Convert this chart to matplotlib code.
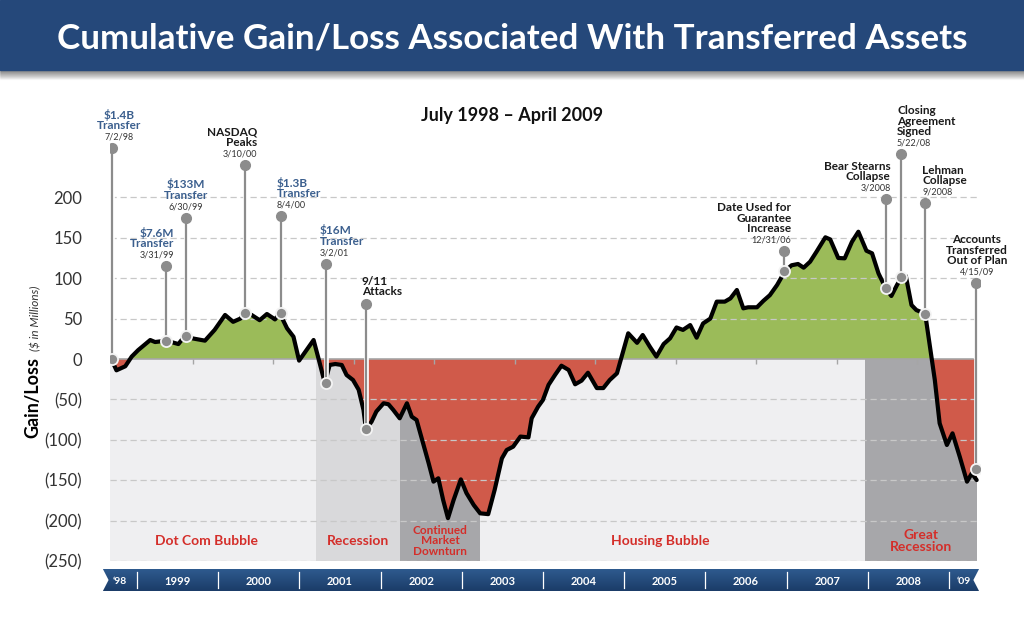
import matplotlib
matplotlib.use("Agg")
import matplotlib.pyplot as plt
import numpy as np
from matplotlib.patches import Polygon, Rectangle
import matplotlib.patheffects as pe

plt.rcParams['font.family'] = ['Lato', 'DejaVu Sans']

# cumulative gain/loss ($M), vertices (decimal years)
dates = [1998.53, 1998.58, 1998.69, 1998.77, 1998.85, 1999.00, 1999.06, 1999.20, 1999.35, 1999.43,
         1999.52, 1999.68, 1999.80, 1999.93, 2000.03, 2000.12, 2000.18, 2000.26, 2000.36, 2000.45,
         2000.55, 2000.61, 2000.70, 2000.78, 2000.85, 2001.03, 2001.09, 2001.17, 2001.23, 2001.30,
         2001.38, 2001.44, 2001.52, 2001.59, 2001.65, 2001.68, 2001.75, 2001.81, 2001.90, 2001.96,
         2002.02, 2002.10, 2002.19, 2002.25, 2002.31, 2002.39, 2002.46, 2002.52, 2002.58, 2002.64,
         2002.70, 2002.77, 2002.86, 2002.93, 2003.02, 2003.10, 2003.20, 2003.28, 2003.37, 2003.43,
         2003.51, 2003.60, 2003.70, 2003.74, 2003.82, 2003.88, 2003.95, 2004.03, 2004.11, 2004.20,
         2004.28, 2004.36, 2004.44, 2004.55, 2004.63, 2004.71, 2004.80, 2004.94, 2005.05, 2005.12,
         2005.21, 2005.29, 2005.38, 2005.46, 2005.54, 2005.62, 2005.71, 2005.79, 2005.87, 2005.96,
         2006.04, 2006.14, 2006.21, 2006.29, 2006.37, 2006.43, 2006.54, 2006.62, 2006.70, 2006.79,
         2006.89, 2006.97, 2007.05, 2007.12, 2007.20, 2007.28, 2007.39, 2007.45, 2007.55, 2007.63,
         2007.72, 2007.80, 2007.90, 2007.97, 2008.05, 2008.14, 2008.21, 2008.28, 2008.34, 2008.39,
         2008.46, 2008.52, 2008.63, 2008.69, 2008.75, 2008.81, 2008.90, 2008.97, 2009.06, 2009.15,
         2009.21, 2009.27]
gain = [-3, -14, -9, 3, 11, 23.5, 21, 22.7, 18.5, 28.5,
        25.6, 22.7, 36, 54.5, 46, 50, 57.3, 54.5, 48, 55.7,
        49, 56.5, 38, 27.6, -2, 23.5, 1, -30, -7.4, -6.2,
        -7.4, -19.8, -26, -38, -63, -86.6, -77.6, -65, -54.8, -56,
        -63, -73.4, -54.8, -71.4, -75.5, -104, -129, -151.8, -147.6, -174.5,
        -197, -174.5, -149, -166, -180.7, -191, -192, -162, -123, -112.6,
        -108.5, -96, -97, -73.4, -59, -50.7, -32, -19.8, -8.3, -13.6,
        -31.3, -26.8, -17, -36, -36, -26, -17.7, 31.8, 20, 29.7,
        15, 3, 18.5, 25.6, 39, 36, 42, 26.4, 44, 50,
        71, 71, 75, 85.4, 62.7, 64, 64, 72, 79, 91.6,
        109, 116, 117.6, 113, 120.4, 132.8, 150.6, 148, 125, 124.6,
        145, 157.5, 134, 130.8, 106, 87.5, 78, 91.6, 101.8, 102.7,
        66.8, 60.6, 56, 15, -26, -79.6, -106.4, -92, -121, -151.8,
        -141.5, -149.8]

# event callouts
ev_x = [1998.53, 1999.20, 1999.44, 2000.18, 2000.62, 2001.18, 2001.68, 2006.88, 2008.14, 2008.33, 2008.63, 2009.26]
ev_low = [0, 22.7, 28.5, 57.3, 56.5, -30, -86.6, 109, 87.5, 101.8, 55.7, -136]
ev_high = [261, 115, 175, 240, 177, 118, 68, 134, 198, 254, 193, 94]
ev_name = ["$1.4B\nTransfer", "$7.6M\nTransfer", "$133M\nTransfer", "NASDAQ\nPeaks", "$1.3B\nTransfer",
           "$16M\nTransfer", "9/11\nAttacks", "Date Used for\nGuarantee\nIncrease", "Bear Stearns\nCollapse",
           "Closing\nAgreement\nSigned", "Lehman\nCollapse", "Accounts\nTransferred\nOut of Plan"]
ev_date = ["7/2/98", "3/31/99", "6/30/99", "3/10/00", "8/4/00", "3/2/01", "", "12/31/06", "3/2008",
           "5/22/08", "9/2008", "4/15/09"]

# economic periods
period_names = ["Dot Com Bubble", "Recession", "Continued\nMarket\nDownturn", "Housing Bubble", "Great\nRecession"]
period_start = [1998.5, 2001.06, 2002.10, 2003.10, 2007.88]
period_end = [2001.06, 2002.10, 2003.10, 2007.88, 2009.27]

y_ticks = [200, 150, 100, 50, 0, -50, -100, -150, -200, -250]
y_labels = ["200", "150", "100", "50", "0", "(50)", "(100)", "(150)", "(200)", "(250)"]
years = ["\u201898", "1999", "2000", "2001", "2002", "2003", "2004", "2005", "2006", "2007", "2008", "\u201809"]
year_bounds = [1998.58, 1999, 2000, 2001, 2002, 2003, 2004, 2005, 2006, 2007, 2008, 2009, 2009.37]

# styling
W, H = 1024, 641
NAVY = '#25487a'
GREEN = '#9bbb59'
RED = '#d05a4a'
period_colors = ['#efeff1', '#d9d9db', '#a7a7aa', '#efeff1', '#a7a7aa']
period_fs = [10, 10, 8.5, 10, 10]
period_shift = [-0.08, 0.0, 0.0, -0.15, 0.0]
ev_color = ['#3b5f8e'] * 3 + ['#1a1a1a'] + ['#3b5f8e'] * 2 + ['#1a1a1a'] * 6
ev_ha = ['center', 'right', 'center', 'right', 'left', 'left', 'left', 'right', 'right', 'left', 'left', 'center']
ev_dx = [7, 8, 0, 12, -4, -6, -4, 7, 5, -4, -3, 1]

x = np.array(dates)
y = np.array(gain)

fig = plt.figure(figsize=(W / 100, H / 100), dpi=100)

# header banner with soft shadow
for i in range(10):
    fig.patches.append(Rectangle((0, 1 - (70 + i) / H), 1, 1 / H, transform=fig.transFigure,
                                 color='#000000', alpha=0.18 * (1 - i / 10), zorder=0))
fig.patches.append(Rectangle((0, 1 - 70 / H), 1, 70 / H, transform=fig.transFigure, color=NAVY, zorder=1))
fig.text(0.5, 1 - 39 / H, "Cumulative Gain/Loss Associated With Transferred Assets", color='white',
         fontsize=25.2, fontweight='bold', ha='center', va='center')
fig.text(0.5, 1 - 116 / H, "July 1998 \u2013 April 2009", fontsize=13, fontweight='bold',
         ha='center', va='center', color='#111111')

# main axes: px 110..980 horizontally, 95..561 vertically
ax = fig.add_axes([110 / W, (H - 561) / H, 870 / W, 466 / H])
x0, x1 = 1998.5, 1998.5 + 870 / 80.47
ax.set_xlim(x0, x1)
ax.set_ylim(-250, (359 - 95) * 50 / 40.4)
for s in ax.spines.values():
    s.set_visible(False)
ax.set_xticks([])
ax.set_yticks(y_ticks)
ax.set_yticklabels(y_labels, fontsize=12, color='#333333')
ax.tick_params(axis='y', length=0, pad=20)

# period shading below zero
for a, b, c in zip(period_start, period_end, period_colors):
    ax.fill_between([a, b], -250, 0, color=c, lw=0, zorder=1)

# gain/loss fills
ax.fill_between(x, y, 0, where=y >= 0, interpolate=True, color=GREEN, lw=0, zorder=2)
ax.fill_between(x, y, 0, where=y <= 0, interpolate=True, color=RED, lw=0, zorder=2)

# grid
for t in y_ticks:
    if t == 0:
        continue
    ax.plot([x0, period_end[-1]], [t, t], color='#c8c8c8', lw=0.9, ls=(0, (5, 3)), zorder=3)
ax.plot([x0, period_end[-1] - 0.05], [0, 0], color='#a6a6a6', lw=1.2, zorder=3)
ax.vlines(np.arange(1999, 2009) + 0.53, -6, 0, color='#a6a6a6', lw=1, zorder=3)

# the curve
ax.plot(x, y, color='black', lw=3, solid_joinstyle='round', solid_capstyle='round', zorder=4)

# period labels
for n, a, b, fs, sh in zip(period_names, period_start, period_end, period_fs, period_shift):
    ax.text((a + b) / 2 + sh, -225, n, color='#d42e2a', fontsize=fs, fontweight='bold',
            ha='center', va='center', linespacing=0.95, zorder=5)

# callouts
for i in range(len(ev_x)):
    ax.plot([ev_x[i], ev_x[i]], [ev_low[i], ev_high[i]], color='#8c8c8c', lw=1.6, zorder=5,
            path_effects=[pe.Stroke(linewidth=3.4, foreground='white'), pe.Normal()])
    ax.plot(ev_x[i], ev_high[i], 'o', ms=7, color='#8c8c8c', mec='#8c8c8c', zorder=6)
    ax.plot(ev_x[i], ev_low[i], 'o', ms=8, color='#8c8c8c', mec='#f4f4f4', mew=1.3, zorder=6)
    dx = ev_dx[i] * 0.72
    up = 5
    if ev_date[i]:
        ax.annotate(ev_date[i], (ev_x[i], ev_high[i]), xytext=(dx, 4.5), textcoords='offset points',
                    ha=ev_ha[i], va='bottom', fontsize=6.5, color='#333333', zorder=7)
        up = 12
    ax.annotate(ev_name[i], (ev_x[i], ev_high[i]), xytext=(dx, up), textcoords='offset points',
                ha=ev_ha[i], va='bottom', fontsize=8.5, fontweight='bold', color=ev_color[i],
                linespacing=0.95, multialignment=ev_ha[i], zorder=7)

# y label
fig.text(33 / W, 1 - 398 / H, "Gain/Loss", rotation=90, fontsize=13, fontweight='bold',
         ha='center', va='center')
fig.text(36 / W, 1 - 318 / H, "($ in Millions)", rotation=90, fontsize=8.5, style='italic',
         ha='center', va='center', color='#333333')

# timeline ribbon
tl = fig.add_axes([103 / W, (H - 591) / H, 882 / W, 22 / H])
tl.set_xlim(1999 - 34 / 81.2, 1999 + 848 / 81.2)
tl.set_ylim(0, 1)
tl.axis('off')
lo, hi = year_bounds[0], year_bounds[-1]
ribbon = Polygon([(lo, 0), (hi, 0), (hi - 0.07, 0.5), (hi, 1), (lo, 1), (lo + 0.07, 0.5)],
                 closed=True, facecolor='none', edgecolor='none')
tl.add_patch(ribbon)
grad = np.linspace(0, 1, 50).reshape(-1, 1)
img = tl.imshow(grad, extent=[lo, hi, 0, 1], aspect='auto', origin='lower',
                cmap=matplotlib.colors.LinearSegmentedColormap.from_list('r', ['#1b3c68', '#2e5a8e']))
img.set_clip_path(ribbon)
for b in year_bounds[1:-1]:
    tl.plot([b, b], [0.12, 0.88], color='white', lw=0.9)
for lab, a, b in zip(years, year_bounds[:-1], year_bounds[1:]):
    tl.text((a + b) / 2, 0.45, lab, color='white',
            fontsize=8 if len(lab) == 4 else 7.5, fontweight='bold', ha='center', va='center')

fig.savefig('out.png', dpi=100)
